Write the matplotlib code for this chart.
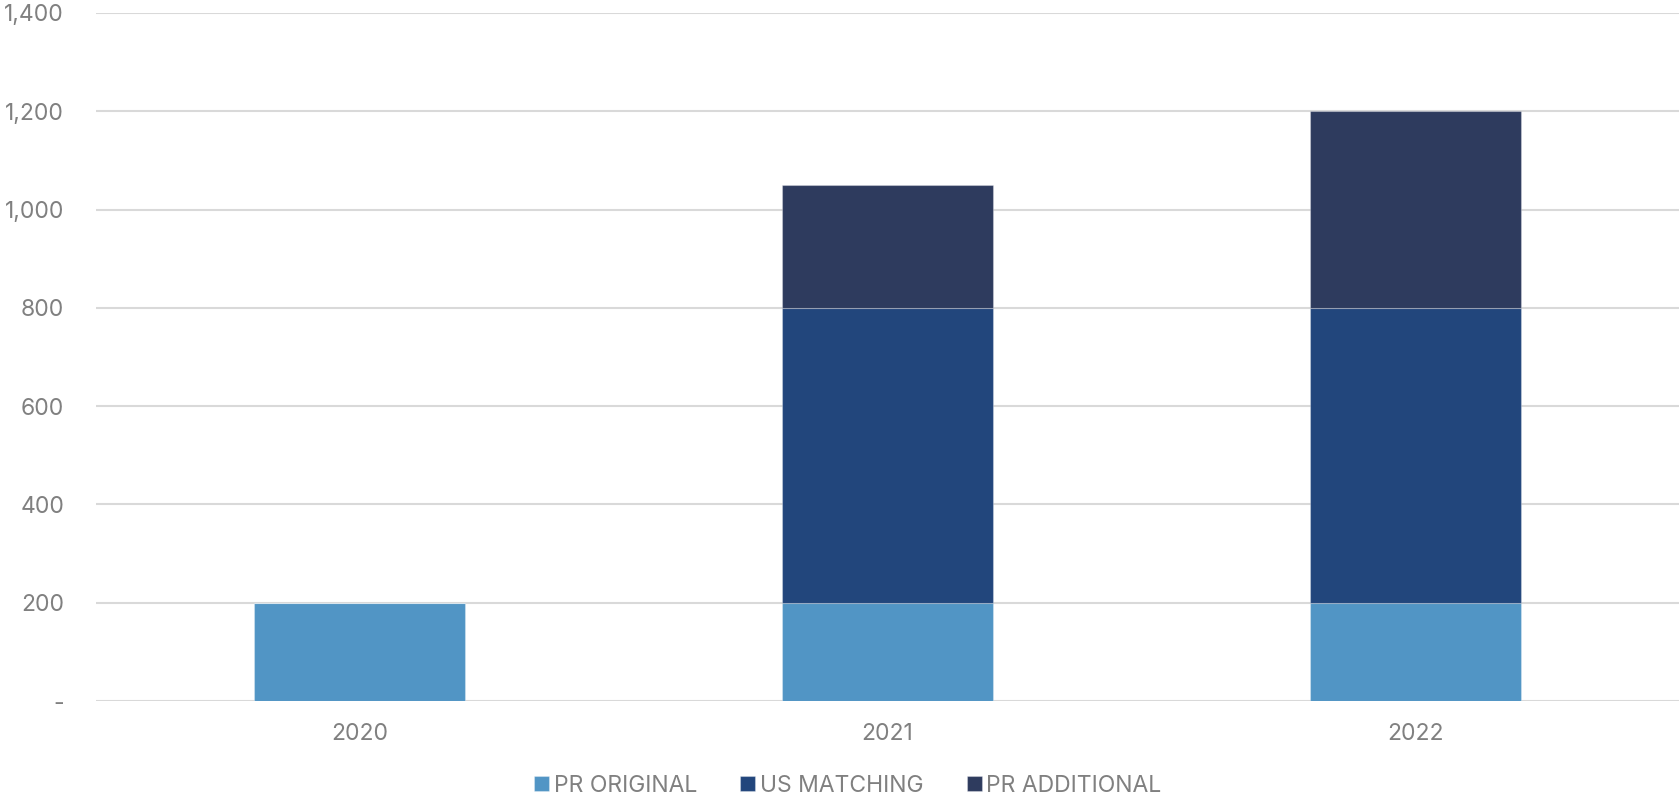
import matplotlib
matplotlib.use('Agg')
import matplotlib.pyplot as plt
from matplotlib.ticker import FuncFormatter
import numpy as np

plt.rcParams['font.family'] = ['Inter', 'DejaVu Sans']

# data
years = ['2020', '2021', '2022']
pr_original = [200, 200, 200]
us_matching = [0, 600, 600]
pr_additional = [0, 250, 400]

series_names = ['PR ORIGINAL', 'US MATCHING', 'PR ADDITIONAL']
colors = ['#5195C5', '#22467C', '#2E3B5E']

fig = plt.figure(figsize=(16.79, 7.96), dpi=100)
ax = fig.add_axes([0.0572, 0.1193, 0.9428, 0.8644])

x = np.arange(len(years))
bottom = np.zeros(len(years))
for vals, name, c in zip([pr_original, us_matching, pr_additional], series_names, colors):
    vals = np.array(vals, dtype=float)
    ax.bar(x, vals, width=0.4, bottom=bottom, color=c, label=name,
           edgecolor=(1, 1, 1, 0.3), linewidth=0.8, zorder=3)
    bottom += vals

ax.set_xlim(-0.5, 2.5)
ax.set_ylim(0, 1400)
ax.set_yticks(range(0, 1401, 200))
ax.yaxis.set_major_formatter(FuncFormatter(lambda v, p: '-' if v == 0 else f'{int(v):,}'))
ax.set_xticks(x)
ax.set_xticklabels(years)

ax.grid(axis='y', color='#D9D9D9', linewidth=1.5, zorder=0)
for s in ax.spines.values():
    s.set_visible(False)
ax.tick_params(axis='both', length=0, labelsize=16.5, labelcolor='#808080')
ax.tick_params(axis='y', pad=23)
ax.tick_params(axis='x', pad=16)

fig.legend(loc='center', bbox_to_anchor=(0.505, 0.013), ncol=3, frameon=False,
           fontsize=16.5, labelcolor='#808080', handlelength=0.65, handleheight=0.65,
           handletextpad=0.2, columnspacing=1.9)

fig.savefig('out.png', dpi=100)
